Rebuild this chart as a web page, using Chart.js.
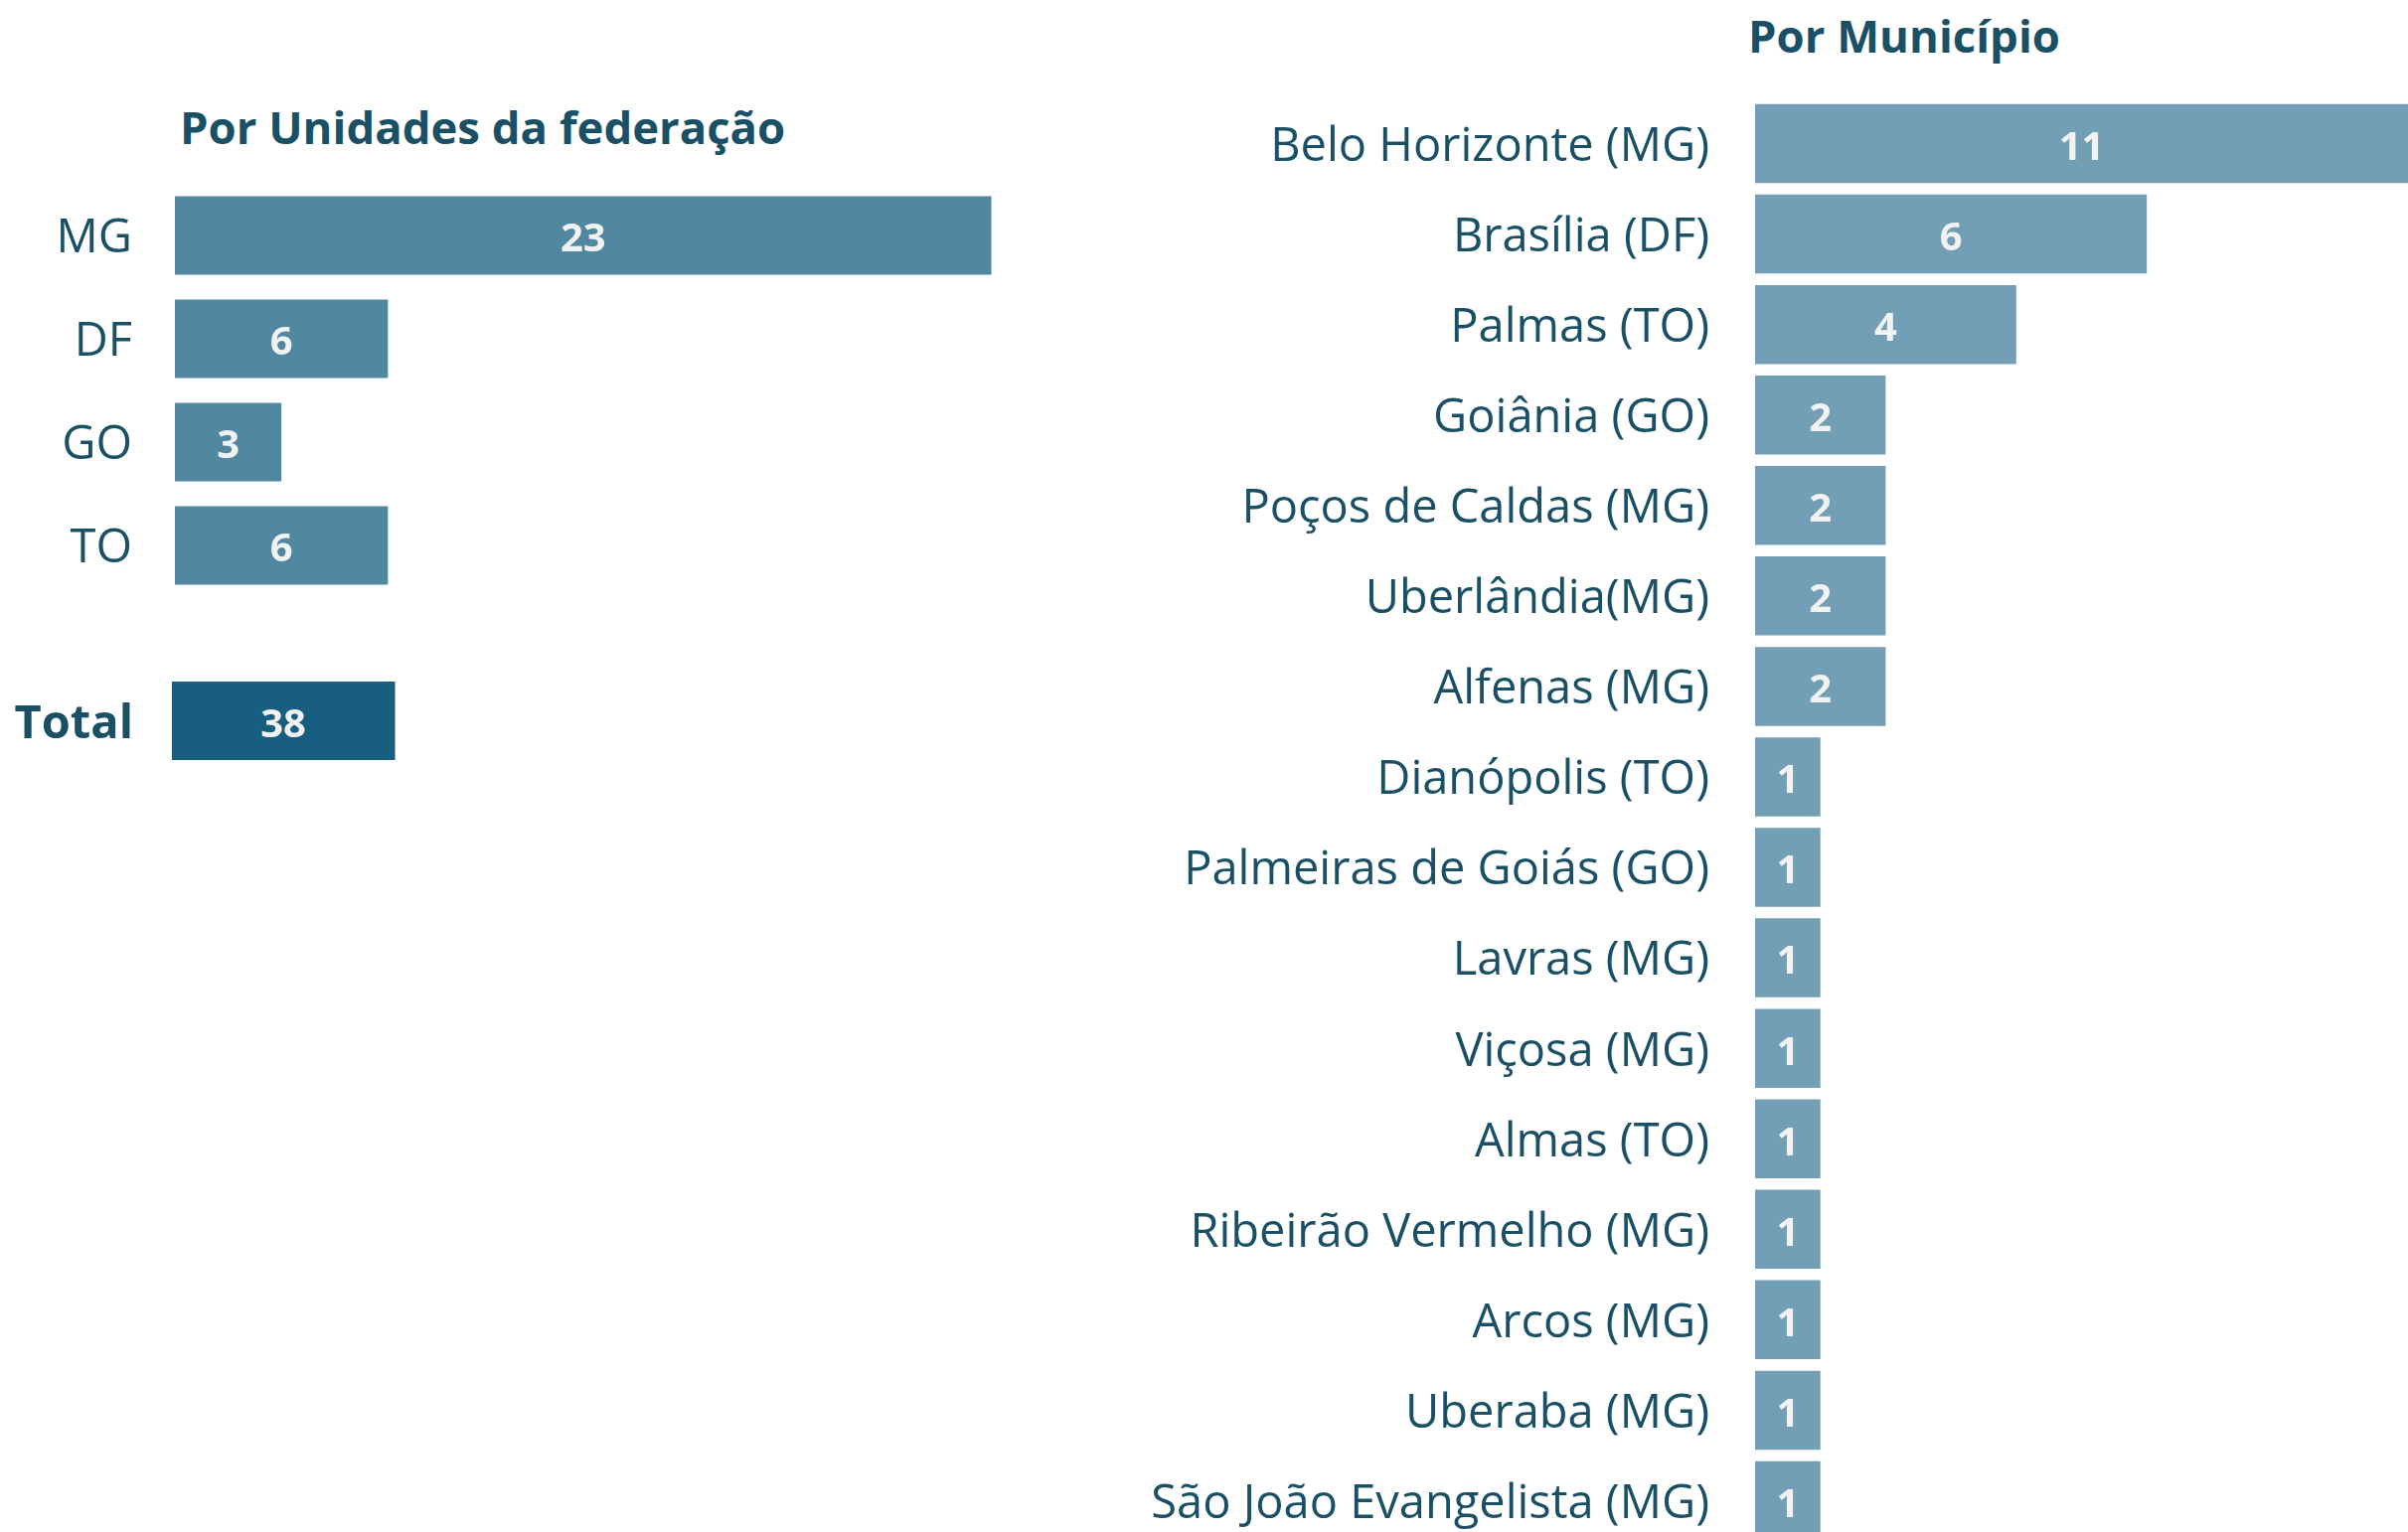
<!DOCTYPE html>
<html>
<head>
<meta charset="utf-8">
<script src="https://cdn.jsdelivr.net/npm/chart.js@4.4.1/dist/chart.umd.min.js"></script>
<style>
  html, body { margin:0; padding:0; background:#ffffff; width:2423px; height:1542px; overflow:hidden; }
  .ttl { position:absolute; font-family:"Open Sans", sans-serif; font-weight:700; color:#1a5066; white-space:nowrap; line-height:1; }
  canvas { position:absolute; }
  .box { position:absolute; }
</style>
</head>
<body>
<div class="ttl" id="t1" style="left:181px; top:105px; font-size:45.5px;">Por Unidades da federação</div>
<div class="ttl" id="t2" style="left:1759px; top:13px; font-size:45.5px;">Por Município</div>

<div class="box" style="left:0px; top:185px; width:1069px; height:416px;"><canvas id="cUF"></canvas></div>
<div class="box" style="left:0px; top:686px; width:468px; height:79px;"><canvas id="cTot"></canvas></div>
<div class="box" style="left:1100px; top:99px; width:1323px; height:1457px;"><canvas id="cMun"></canvas></div>

<script>
// ---- Data ----
const ufLabels = ['MG', 'DF', 'GO', 'TO'];
const ufValues = [23, 6, 3, 6];

const totalLabels = ['Total'];
const totalValues = [38];

const munLabels = [
  'Belo Horizonte (MG)', 'Brasília (DF)', 'Palmas (TO)', 'Goiânia (GO)',
  'Poços de Caldas (MG)', 'Uberlândia(MG)', 'Alfenas (MG)', 'Dianópolis (TO)',
  'Palmeiras de Goiás (GO)', 'Lavras (MG)', 'Viçosa (MG)', 'Almas (TO)',
  'Ribeirão Vermelho (MG)', 'Arcos (MG)', 'Uberaba (MG)', 'São João Evangelista (MG)'
];
const munValues = [11, 6, 4, 2, 2, 2, 2, 1, 1, 1, 1, 1, 1, 1, 1, 1];

// ---- Styles ----
const FONT = '"Open Sans", sans-serif';
const TEXT = '#1a5066';
const LABEL_FONT_SIZE = 47;

const valueLabels = {
  id: 'valueLabels',
  afterDatasetsDraw(chart, args, opts) {
    const { ctx, chartArea } = chart;
    ctx.save();
    ctx.font = `700 ${opts.size}px ${FONT}`;
    ctx.fillStyle = '#f2f2f2';
    ctx.textAlign = 'center';
    ctx.textBaseline = 'middle';
    chart.data.datasets.forEach((ds, di) => {
      const meta = chart.getDatasetMeta(di);
      meta.data.forEach((bar, i) => {
        const r = Math.min(bar.x, chartArea.right);
        const l = Math.max(bar.base, chartArea.left);
        ctx.fillText(String(ds.data[i]), (l + r) / 2, bar.y + (opts.dy || 0));
      });
    });
    ctx.restore();
  }
};

function makeChart(id, labels, values, color, opt) {
  return new Chart(document.getElementById(id), {
    type: 'bar',
    data: {
      labels: labels,
      datasets: [{ data: values, backgroundColor: color, borderWidth: 0,
                   barPercentage: opt.barPct, categoryPercentage: 1.0 }]
    },
    options: {
      indexAxis: 'y',
      responsive: true,
      maintainAspectRatio: false,
      animation: false,
      events: [],
      layout: { padding: 0 },
      plugins: { legend: { display: false }, tooltip: { enabled: false }, title: { display: false },
                 valueLabels: { size: 40, dy: 5 } },
      scales: {
        x: { display: false, min: 0, max: opt.max },
        y: {
          grid: { display: false, drawTicks: false },
          border: { display: false },
          ticks: { color: TEXT, padding: opt.pad, labelOffset: 4,
                   font: { family: FONT, size: LABEL_FONT_SIZE, weight: opt.bold ? '700' : '400' } },
          afterFit(scale) {
            scale.width = opt.axisW;
            scale.paddingTop = 0;
            scale.paddingBottom = 0;
          }
        }
      }
    },
    plugins: [valueLabels]
  });
}

makeChart('cUF', ufLabels, ufValues, '#5088a2', { barPct: 0.76, max: 25, pad: 43, axisW: 176, bold: false });
makeChart('cTot', totalLabels, totalValues, '#175e80', { barPct: 1.0, max: 50, pad: 39, axisW: 173, bold: true });
makeChart('cMun', munLabels, munValues, '#729fb5', { barPct: 0.873, max: 10, pad: 46, axisW: 666, bold: false });
</script>
</body>
</html>
